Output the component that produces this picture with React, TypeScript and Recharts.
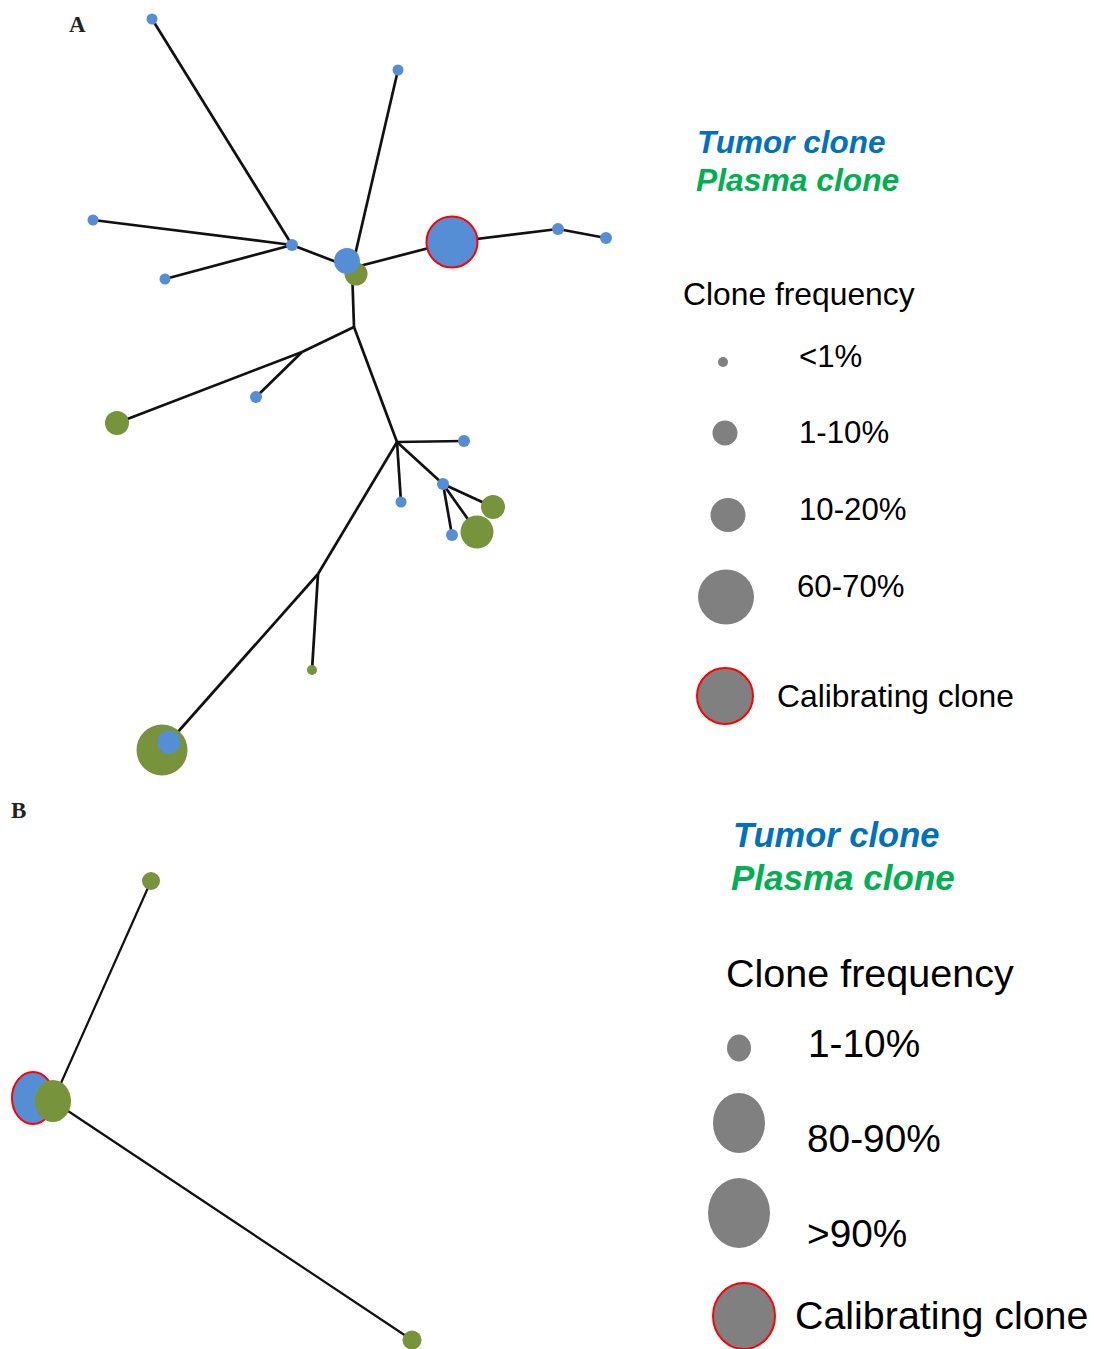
import React from "react";
import {
  ScatterChart,
  Scatter,
  XAxis,
  YAxis,
  ReferenceLine,
  Customized,
} from "recharts";

const W = 1094;
const H = 1349;

const BLUE = "#558ED5";
const GREEN = "#77933C";
const GREY = "#808080";
const RED = "#FF0000";

// panel A: clone nodes (layout x, y, radius ~ frequency), drawn in this order
const nodesA = [
  { id: "a1", x: 152, y: 19, r: 5.5, clone: "tumor" },
  { id: "a2", x: 398, y: 70, r: 5.5, clone: "tumor" },
  { id: "a3", x: 93, y: 220, r: 5.5, clone: "tumor" },
  { id: "a4", x: 165, y: 279, r: 5.5, clone: "tumor" },
  { id: "a5", x: 292, y: 245, r: 6, clone: "tumor" },
  { id: "a6p", x: 356, y: 274, r: 11.5, clone: "plasma" },
  { id: "a6", x: 347, y: 261, r: 13, clone: "tumor" },
  { id: "cal", x: 452, y: 242, r: 25.5, clone: "tumor", calibrating: true },
  { id: "a8", x: 558, y: 229, r: 6, clone: "tumor" },
  { id: "a9", x: 606, y: 238, r: 6, clone: "tumor" },
  { id: "a10", x: 256, y: 397, r: 6, clone: "tumor" },
  { id: "a11", x: 117, y: 423, r: 12, clone: "plasma" },
  { id: "a12", x: 464, y: 441, r: 6, clone: "tumor" },
  { id: "a13", x: 401, y: 502, r: 5.5, clone: "tumor" },
  { id: "a14", x: 443, y: 484, r: 6, clone: "tumor" },
  { id: "a15", x: 493, y: 507, r: 12, clone: "plasma" },
  { id: "a16", x: 477, y: 532, r: 16.5, clone: "plasma" },
  { id: "a17", x: 452, y: 535, r: 6, clone: "tumor" },
  { id: "a18", x: 312, y: 670, r: 5, clone: "plasma" },
  { id: "a19p", x: 162, y: 750, r: 25.5, clone: "plasma" },
  { id: "a19", x: 169, y: 742, r: 11.5, clone: "tumor" },
];

// branch points without a clone
const junctionsA = [
  { id: "hub", x: 352, y: 268 },
  { id: "j1", x: 354, y: 327 },
  { id: "j2", x: 302, y: 352 },
  { id: "j3", x: 397, y: 442 },
  { id: "j4", x: 318, y: 574 },
];

const edgesA = [
  ["a1", "a5"],
  ["a3", "a5"],
  ["a4", "a5"],
  ["a5", "hub"],
  ["a2", "hub"],
  ["cal", "hub"],
  ["cal", "a8"],
  ["a8", "a9"],
  ["hub", "j1"],
  ["j1", "j2"],
  ["j2", "a11"],
  ["j2", "a10"],
  ["j1", "j3"],
  ["j3", "a12"],
  ["j3", "a13"],
  ["j3", "a14"],
  ["a14", "a15"],
  ["a14", "a16"],
  ["a14", "a17"],
  ["j3", "j4"],
  ["j4", "a18"],
  ["j4", "a19"],
];

// panel B
const nodesB = [
  { id: "b1", x: 151, y: 881, r: 9, clone: "plasma" },
  { id: "bcal", x: 33, y: 1098, r: 21, ry: 26, clone: "tumor", calibrating: true },
  { id: "b2", x: 53, y: 1101, r: 18, ry: 21, clone: "plasma" },
  { id: "b3", x: 412, y: 1340, r: 9.5, clone: "plasma" },
];

const edgesB = [
  ["b1", "b2"],
  ["b2", "b3"],
];

// legends: frequency classes and swatch sizes
const freqLabelsA = ["<1%", "1-10%", "10-20%", "60-70%", "Calibrating clone"];
const freqSizesA = [5, 12.5, 17.5, 28, 28];
const freqLabelsB = ["1-10%", "80-90%", ">90%", "Calibrating clone"];
const freqSizesB = [12, 26, 31, 31];

// legend rows layout (swatch centre, label baseline)
const rowsA = [
  { x: 723, y: 362, ry: 5, tx: 799, ty: 367 },
  { x: 725, y: 433, ry: 12.5, tx: 799, ty: 443 },
  { x: 728, y: 515, ry: 17, tx: 799, ty: 520 },
  { x: 726, y: 597, ry: 27.5, tx: 797, ty: 597 },
  { x: 725, y: 696, ry: 28, tx: 777, ty: 707 },
];
const rowsB = [
  { x: 739, y: 1048, ry: 13.5, tx: 808, ty: 1057 },
  { x: 739, y: 1123, ry: 30, tx: 807, ty: 1152 },
  { x: 739, y: 1213, ry: 35, tx: 807, ty: 1247 },
  { x: 744, y: 1316, ry: 33, tx: 795, ty: 1329 },
];

const legendSwatches = [
  ...rowsA.map((row, i) => ({
    id: `la${i}`,
    x: row.x,
    y: row.y,
    r: freqSizesA[i],
    ry: row.ry,
    clone: "legend",
    calibrating: i === freqLabelsA.length - 1,
  })),
  ...rowsB.map((row, i) => ({
    id: `lb${i}`,
    x: row.x,
    y: row.y,
    r: freqSizesB[i],
    ry: row.ry,
    clone: "legend",
    calibrating: i === freqLabelsB.length - 1,
  })),
];

const allPoints = [...nodesA, ...junctionsA, ...nodesB];
const byId: Record<string, { x: number; y: number }> = {};
allPoints.forEach((p) => (byId[p.id] = p));

const NodeShape = (props: any) => {
  const { cx, cy, payload } = props;
  if (cx == null || cy == null) return null;
  const fill =
    payload.clone === "tumor" ? BLUE : payload.clone === "plasma" ? GREEN : GREY;
  return (
    <ellipse
      cx={cx}
      cy={cy}
      rx={payload.r}
      ry={payload.ry ?? payload.r}
      fill={fill}
      stroke={payload.calibrating ? RED : "none"}
      strokeWidth={payload.calibrating ? 2 : 0}
    />
  );
};

const sans = "'Liberation Sans', Arial, sans-serif";
const serif = "'Liberation Serif', 'Times New Roman', serif";

const Texts = () => (
  <g>
    <text x={69} y={32} fontFamily={serif} fontWeight="bold" fontSize={23} fill="#222">
      A
    </text>
    <text x={11} y={818} fontFamily={serif} fontWeight="bold" fontSize={23} fill="#222">
      B
    </text>

    <text x={697} y={153} fontFamily={sans} fontWeight="bold" fontStyle="italic" fontSize={31.5} fill="#0070C0">
      Tumor clone
    </text>
    <text x={696} y={191} fontFamily={sans} fontWeight="bold" fontStyle="italic" fontSize={31.8} fill="#00B050">
      Plasma clone
    </text>
    <text x={683} y={305} fontFamily={sans} fontSize={31.8} fill="#000">
      Clone frequency
    </text>
    {rowsA.map((row, i) => (
      <text key={`ta${i}`} x={row.tx} y={row.ty} fontFamily={sans} fontSize={i === 4 ? 31.8 : 31.2} fill="#000">
        {freqLabelsA[i]}
      </text>
    ))}

    <text x={733} y={847} fontFamily={sans} fontWeight="bold" fontStyle="italic" fontSize={34.5} fill="#0070C0">
      Tumor clone
    </text>
    <text x={731} y={890} fontFamily={sans} fontWeight="bold" fontStyle="italic" fontSize={35} fill="#00B050">
      Plasma clone
    </text>
    <text x={726} y={987} fontFamily={sans} fontSize={39.5} fill="#000">
      Clone frequency
    </text>
    {rowsB.map((row, i) => (
      <text key={`tb${i}`} x={row.tx} y={row.ty} fontFamily={sans} fontSize={i === 3 ? 39.4 : 38.8} fill="#000">
        {freqLabelsB[i]}
      </text>
    ))}
  </g>
);

export default function App() {
  const edge = (pair: string[], key: string, width: number) => {
    const a = byId[pair[0]];
    const b = byId[pair[1]];
    return (
      <ReferenceLine
        key={key}
        segment={[
          { x: a.x, y: a.y },
          { x: b.x, y: b.y },
        ]}
        stroke="#111"
        strokeWidth={width}
        ifOverflow="visible"
      />
    );
  };

  return (
    <div
      style={{
        position: "absolute",
        left: 0,
        top: 0,
        width: W,
        height: H,
        background: "#fff",
        overflow: "hidden",
      }}
    >
      <ScatterChart
        width={W}
        height={H}
        margin={{ top: 0, right: 0, bottom: 0, left: 0 }}
      >
        <XAxis type="number" dataKey="x" domain={[0, W]} hide allowDataOverflow />
        <YAxis type="number" dataKey="y" domain={[0, H]} reversed hide allowDataOverflow />
        {edgesA.map((e, i) => edge(e, `ea${i}`, 2.7))}
        {edgesB.map((e, i) => edge(e, `eb${i}`, 2.2))}
        <Scatter data={nodesA} shape={NodeShape} isAnimationActive={false} />
        <Scatter data={nodesB} shape={NodeShape} isAnimationActive={false} />
        <Scatter data={legendSwatches} shape={NodeShape} isAnimationActive={false} />
        <Customized component={Texts} />
      </ScatterChart>
    </div>
  );
}
